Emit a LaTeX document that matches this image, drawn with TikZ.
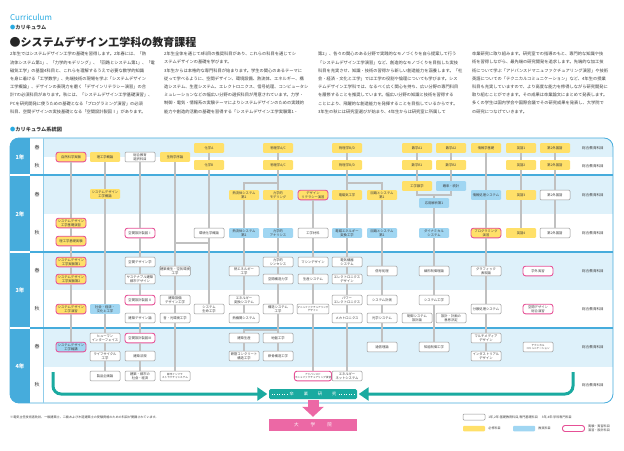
\documentclass[tikz,border=0pt]{standalone}
\usepackage{fontspec}
\setmainfont{Noto Sans CJK JP}
\usepackage{xcolor}
\usepackage{tikz}
\usetikzlibrary{arrows.meta, positioning}

\definecolor{reqyel}{RGB}{255,224,105}
\definecolor{recblue}{RGB}{160,214,242}
\definecolor{labpink}{RGB}{230,80,150}
\definecolor{bandblue}{RGB}{222,241,250}
\definecolor{frameblue}{RGB}{70,172,220}
\definecolor{thesisteal}{RGB}{26,170,160}
\definecolor{gradpink}{RGB}{236,104,165}
\definecolor{conngray}{RGB}{192,192,192}
\definecolor{boxgray}{RGB}{150,150,150}
\definecolor{headcyan}{RGB}{40,170,225}
\definecolor{bodygray}{RGB}{60,60,60}

\newcommand{\boxfont}{\fontsize{3.3}{4}\selectfont}
\newcommand{\smallboxfont}{\fontsize{2.6}{3.4}\selectfont}

\begin{document}
\begin{tikzpicture}[
    x=1pt, y=-1pt,
    box/.style={rounded corners=1pt, minimum width=30pt, minimum height=9.6pt, inner sep=0.4pt, align=center, font=\boxfont, text=bodygray},
    req/.style={box, fill=reqyel},
    rec/.style={box, fill=recblue},
    sub/.style={box, fill=white, draw=boxgray, line width=0.5pt},
    lab/.style={draw=labpink, line width=0.9pt, rounded corners=2.5pt},
    conn/.style={draw=conngray, line width=1.1pt},
    bigarrow/.style={draw=thesisteal, line width=3pt, rounded corners=8pt, -{Triangle[length=10pt, width=13pt]}},
    body/.style={anchor=north west, inner sep=0pt, align=left, text=bodygray, font=\fontsize{4.25}{8.2}\selectfont},
    yearlbl/.style={text=white, font=\fontsize{5.5}{6}\selectfont\bfseries},
    semlbl/.style={text=bodygray, font=\fontsize{5}{6}\selectfont},
    genlbl/.style={text=bodygray, font=\fontsize{3.6}{4}\selectfont},
    legtext/.style={text=bodygray, inner sep=0pt, align=left, font=\fontsize{3.1}{4.2}\selectfont}
]
    \useasboundingbox (0,0) rectangle (624,450);
    \fill[white] (0,0) rectangle (624,450);

    \node[anchor=west, text=headcyan, font=\fontsize{8}{9}\selectfont, inner sep=0pt] (curr) at (10,17) {Curriculum};
    \node[anchor=west, text=bodygray, font=\fontsize{5.2}{6}\selectfont\bfseries, inner sep=0pt] (currjp) at (10,27.5) {{\color{headcyan}●}カリキュラム};
    \node[anchor=west, text=black!85, font=\fontsize{11}{13}\selectfont\bfseries, inner sep=0pt] (title) at (9.5,42) {●システムデザイン工学科の教育課程};

    \node[body] (col1) at (10,52) {2年生ではシステムデザイン工学の基礎を習得します。2年春には、「熱\\流体システム第1」、「力学的モデリング」、「回路とシステム第1」、「電\\磁気工学」の基盤4科目と、これらを理解するうえで必要な数学的知識\\を身に着ける「工学数学」、先端技術の現場を学ぶ「システムデザイン\\工学概論」、デザインの表現力を磨く「デザインリテラシー演習」の合\\計7の必須科目があります。秋には、「システムデザイン工学基礎演習」、\\PCを研究開発に使うための基礎となる「プログラミング演習」の必須\\科目、空間デザインの実技基礎となる「空間設計製図Ⅰ」があります。};
    \node[body] (col2) at (164,52) {2年生全体を通じて8科目の推奨科目があり、これらの科目を通じてシ\\ステムデザインの基礎を学びます。\\3年生からは本格的な専門科目が始まります。学生の関心のあるテーマに\\従って学べるように、空間デザイン、環境設備、熱流体、エネルギー、構\\造システム、生産システム、エレクトロニクス、信号処理、コンピュータシ\\ミュレーションなどの幅広い分野の選択科目が用意されています。力学・\\制御・電気・情報系の実験テーマによりシステムデザインのための実践的\\能力や創造的活動の基礎を習得する「システムデザイン工学実験第1・};
    \node[body] (col3) at (318,52) {第2」、各々の関心のある分野で実践的なモノづくりを自ら提案して行う\\「システムデザイン工学演習」など、創造的なモノづくりを目指した実技\\科目を充実させ、知識・技術の習得から新しい創造能力を涵養します。「社\\会・経済・文化と工学」では工学の役割や倫理についても学びます。シス\\テムデザイン工学科では、なるべく広く関心を持ち、広い分野の専門科目\\を履修することを推奨しています。幅広い分野の知識と技術を習得する\\ことにより、飛躍的な創造能力を発揮することを目指しているからです。\\3年生の秋には研究室選びが始まり、4年生からは研究室に所属して};
    \node[body] (col4) at (472,52) {卒業研究に取り組みます。研究室での指導のもと、専門的な知識や技\\術を習得しながら、最先端の研究開発を追求します。先端的な加工技\\術について学ぶ「アドバンスドマニュファクチュアリング演習」や技術\\英語についての「テクニカルコミュニケーション」など、4年生の授業\\科目も充実していますので、より高度な能力を修得しながら研究開発に\\取り組むことができます。その成果は卒業論文にまとめて発表します。\\多くの学生は国内学会や国際会議でその研究成果を発表し、大学院で\\の研究につなげていきます。};

    \node[anchor=west, text=bodygray, font=\fontsize{5.2}{6}\selectfont\bfseries, inner sep=0pt] (charthead) at (10,129.5) {{\color{headcyan}●}カリキュラム系統図};

    \begin{scope}
        \clip[rounded corners=9pt] (10,138) rectangle (613,403);
        \foreach \ya/\yb in {138/157, 175/214, 252/290, 328/367}
            \fill[bandblue] (43,\ya) rectangle (613,\yb);
        \fill[frameblue] (10,138) rectangle (30,403);
    \end{scope}
    \draw[frameblue, line width=0.8pt, rounded corners=9pt] (10,138) rectangle (613,403);
    \draw[frameblue!60, line width=0.6pt] (43,138) -- (43,403);
    \foreach \y in {175, 252, 328} {
        \draw[frameblue, line width=1.2pt] (30,\y) -- (613,\y);
        \draw[white, line width=1.2pt] (10,\y) -- (30,\y);
    }

    \foreach \y/\t in {157/1, 214/2, 290/3, 366/4}
        \node[yearlbl] (yr\t) at (20,\y) {\t 年};
    \foreach \y/\s [count=\i] in {148/春, 166/秋, 195/春, 233/秋, 271/春, 309/秋, 347/春, 385/秋} {
        \node[semlbl] (sem\i) at (37,\y) {\s};
        \node[genlbl] (gen\i) at (593,\y) {総合教育科目};
    }

    % 1年
    \node[req, lab] (natexp) at (71,157) {自然科学実験};
    \node[req] (stintro) at (105,157) {理工学概論};
    \node[sub] (libsel) at (140,157) {総合教育\\選択科目};
    \node[req] (bio) at (175,157) {生物学序論};
    \node[req] (chemA) at (209,148) {化学A};
    \node[req] (chemB) at (209,165) {化学B};
    \node[req] (phyAC) at (278,148) {物理学A/C};
    \node[req] (phyACii) at (278,165) {物理学A/C};
    \node[req] (phyBD) at (347,148) {物理学B/D};
    \node[req] (phyBDii) at (347,165) {物理学B/D};
    \node[req] (mathAi) at (417,148) {数学A1};
    \node[req] (mathAii) at (451,148) {数学A2};
    \node[req] (mathBi) at (417,165) {数学B1};
    \node[req] (mathBii) at (451,165) {数学B2};
    \node[req] (info) at (486,148) {情報学基礎};
    \node[req] (eng1) at (521,148) {英語1};
    \node[req] (eng2) at (521,165) {英語2};
    \node[req] (for1) at (555,148) {第2外国語};
    \node[req] (for2) at (555,165) {第2外国語};

    % 2年
    \node[req] (sdintro) at (105,194) {システムデザイン\\工学概論};
    \node[req] (tf1) at (244,195) {熱流体システム\\第1};
    \node[req] (mmod) at (278,195) {力学的\\モデリング};
    \node[req, lab] (dlit) at (313,195) {デザイン\\リテラシー演習};
    \node[req] (emag) at (347,195) {電磁気工学};
    \node[req] (cir1) at (382,195) {回路とシステム\\第1};
    \node[req] (engmath) at (417,186) {工学数学};
    \node[rec] (prob) at (451,186) {確率・統計};
    \node[rec] (anal1) at (434,203) {応用解析第1};
    \node[rec] (infosys) at (486,195) {情報処理システム};
    \node[req] (eng3) at (521,195) {英語3};
    \node[sub] (for3) at (555,195) {第2外国語};

    \node[req, lab] (sdbase) at (71,223) {システムデザイン\\工学基礎演習};
    \node[req, lab] (stexp) at (71,241) {理工学基礎実験};
    \node[sub, lab] (sp1) at (140,233) {空間設計製図Ⅰ};
    \node[sub] (envchem) at (209,233) {環境化学概論};
    \node[rec] (tf2) at (244,233) {熱流体システム\\第2};
    \node[rec] (mana) at (278,233) {力学的\\アナリシス};
    \node[sub] (mat) at (313,233) {工学材料};
    \node[rec] (emconv) at (347,233) {電磁エネルギー\\変換工学};
    \node[rec] (cir2) at (382,233) {回路とシステム\\第2};
    \node[rec] (dyn) at (434,233) {ダイナミカル\\システム};
    \node[req, lab] (prog) at (486,233) {プログラミング\\演習};
    \node[req] (eng4) at (521,233) {英語4};
    \node[sub] (for4) at (555,233) {第2外国語};

    % 3年
    \node[req, lab] (sdexp1) at (71,262) {システムデザイン\\工学実験第1};
    \node[req, lab] (sdexp2) at (71,279) {システムデザイン\\工学実験第2};
    \node[sub] (spd) at (140,262) {空間デザイン学};
    \node[sub] (sust) at (140,279) {サステナブル建築\\都市デザイン};
    \node[sub] (bhyg) at (175,271) {建築衛生・空気環境\\工学};
    \node[sub] (theng) at (244,271) {熱エネルギー\\工学};
    \node[sub] (msyn) at (278,262) {力学的\\シンセシス};
    \node[sub] (sstr) at (278,279) {空間構造力学};
    \node[sub] (mach) at (313,262) {マシンデザイン};
    \node[sub] (prod) at (313,279) {生産システム};
    \node[sub] (elmach) at (347,262) {電気機器\\システム};
    \node[sub] (eldes) at (347,279) {エレクトロニクス\\デザイン};
    \node[sub] (sig) at (382,271) {信号処理};
    \node[sub] (lctl) at (434,271) {線形制御理論};
    \node[sub] (graph) at (486,271) {グラフィック\\表現論};
    \node[sub, lab] (intern) at (538,271) {学外実習};

    \node[req, lab] (sdprac) at (71,309) {システムデザイン\\工学演習};
    \node[rec] (soc) at (105,309) {社会・経済・\\文化と工学};
    \node[sub, lab] (sp2) at (140,300) {空間設計製図Ⅱ};
    \node[sub] (archd) at (140,318) {建築デザイン論};
    \node[sub] (bequip) at (175,300) {建築設備\\デザイン工学};
    \node[sub] (sound) at (175,318) {音・光環境工学};
    \node[sub] (lifesys) at (209,309) {システム\\生命工学};
    \node[sub] (econv) at (244,300) {エネルギー\\変換システム};
    \node[sub] (heng) at (244,318) {熱機関システム};
    \node[sub] (struct) at (278,309) {構造システム\\工学};
    \node[sub, font=\smallboxfont] (manu) at (313,309) {マニュファクチュアリング\\デザイン};
    \node[sub] (pwr) at (347,300) {パワー\\エレクトロニクス};
    \node[sub] (mecha) at (347,318) {メカトロニクス};
    \node[sub] (meas) at (382,300) {システム計測};
    \node[sub] (opt) at (382,318) {光学システム};
    \node[sub] (syseng) at (434,300) {システム工学};
    \node[sub] (ctldes) at (417,318) {制御システム\\設計論};
    \node[sub] (decis) at (451,318) {設計・計画の\\意思決定};
    \node[sub] (dist) at (486,309) {分散処理システム};
    \node[sub, lab] (spcomp) at (538,309) {空間デザイン\\総合演習};

    % 4年
    \node[rec, lab] (sdsem) at (71,347) {システムデザイン\\工学輪講};
    \node[sub] (hif) at (105,338) {ヒューマン\\インターフェイス};
    \node[sub] (lce) at (105,356) {ライフサイクル\\工学};
    \node[sub, lab] (sp3) at (140,338) {空間設計製図Ⅲ};
    \node[sub] (blaw) at (140,356) {建築法規};
    \node[sub] (bprod) at (244,338) {建築生産};
    \node[sub] (geo) at (278,338) {地盤工学};
    \node[sub] (rc) at (244,356) {鉄筋コンクリート\\構造工学};
    \node[sub] (steel) at (278,356) {鉄骨構造工学};
    \node[sub] (comm) at (382,347) {通信理論};
    \node[sub] (ictl) at (434,347) {知能制御工学};
    \node[sub] (mmd) at (486,338) {マルチメディア\\デザイン};
    \node[sub] (ind) at (486,356) {インダストリアル\\デザイン};
    \node[sub, font=\smallboxfont] (tcom) at (538,347) {テクニカル\\コミュニケーション};

    \node[sub] (plan) at (105,376) {製品企画論};
    \node[sub] (urbec) at (140,376) {建築・都市の\\社会・経済};
    \node[sub, font=\smallboxfont] (infra) at (175,376) {都市インフラ\\ストラクチャシステム};
    \node[sub, lab, font=\smallboxfont] (amanu) at (313,376) {アドバンスド\\マニュファクチュアリング演習};
    \node[sub] (enet) at (347,376) {エネルギー\\ネットシステム};

    \node[fill=thesisteal, rounded corners=1.5pt, minimum width=88pt, minimum height=10pt, inner sep=0pt, text=white, font=\fontsize{4.2}{5}\selectfont] (thesis) at (313,394) {卒\hspace{10pt}業\hspace{10pt}研\hspace{10pt}究};
    \node[fill=gradpink, minimum width=88pt, minimum height=12pt, inner sep=0pt, text=white, font=\fontsize{4.6}{5}\selectfont] (grad) at (313,425) {大\hspace{12pt}学\hspace{12pt}院};

    \foreach \a/\b in {natexp/sdbase, sdbase/stexp, stexp/sdexp1, sdexp1/sdexp2, sdexp2/sdprac, sdprac/sdsem,
        stintro/sdintro, sdintro/soc, soc/hif, hif/lce, lce/plan,
        libsel/sp1, sp1/spd, spd/sust, sust/sp2, sp2/archd, archd/sp3, sp3/blaw, blaw/urbec,
        bio/bhyg, bhyg/bequip, bequip/sound, sound/infra,
        chemA/chemB, chemB/envchem, envchem/lifesys,
        tf1/tf2, tf2/theng, theng/econv, econv/heng,
        phyAC/phyACii, phyACii/mmod, mmod/mana, mana/msyn, msyn/sstr, sstr/struct, struct/geo, geo/steel, bprod/rc,
        dlit/mat, mat/mach, mach/prod, prod/manu, manu/amanu,
        phyBD/phyBDii, phyBDii/emag, emag/emconv, emconv/elmach, elmach/eldes, eldes/pwr, pwr/mecha, mecha/enet,
        cir1/cir2, cir2/sig, sig/meas, meas/opt, opt/comm,
        mathAi/mathBi, mathAii/mathBii, mathBi/engmath, mathBii/prob,
        anal1/dyn, dyn/lctl, lctl/syseng, syseng/ictl,
        info/infosys, infosys/prog, prog/graph, graph/dist, dist/mmd, mmd/ind,
        eng1/eng2, eng2/eng3, eng3/eng4, for1/for2, for2/for3, for3/for4}
        \draw[conn] (\a) -- (\b);

    \coordinate (jtf) at (244,183);
    \coordinate (jcir) at (382,183);
    \coordinate (jmath) at (434,195);
    \coordinate (jchem) at (175,243);
    \coordinate (jbld) at (244,330);
    \draw[conn] (phyACii.south) |- (jtf) -- (tf1.north);
    \draw[conn] (phyBDii.south) |- (jcir) -- (cir1.north);
    \draw[conn] (engmath.south) |- (jmath);
    \draw[conn] (prob.south) |- (jmath) -- (anal1.north);
    \draw[conn] (envchem.south) |- (jchem);
    \draw[conn] (struct.south) |- (jbld) -- (bprod.north);

    \coordinate (lstart) at (53,372);
    \coordinate (rstart) at (573,372);
    \draw[bigarrow, shorten >=1.5pt] (lstart) |- (thesis.west);
    \draw[bigarrow, shorten >=1.5pt] (rstart) |- (thesis.east);
    \draw[white, dotted, line width=0.5pt] ([xshift=3pt]thesis.west) -- ([xshift=20pt]thesis.west);
    \draw[white, dotted, line width=0.5pt] ([xshift=-3pt]thesis.east) -- ([xshift=-20pt]thesis.east);
    \draw[gradpink, line width=11pt, -{Triangle[length=10pt, width=21pt]}, shorten >=2pt, shorten <=1pt] (thesis) -- (grad);

    \node[anchor=west, legtext] (note) at (10,417) {※電気主任技術者免状、一級建築士、二級および木造建築士の受験資格のための科目が開講されています。};

    \node[sub, minimum width=22pt, minimum height=6pt] (legsub) at (474,417) {};
    \node[legtext, right=3pt of legsub] (legsubt) {1年,2年:基礎教育科目,専門基礎科目\hspace{4pt}3年,4年:学科専門科目};
    \node[box, fill=reqyel, minimum width=22pt, minimum height=5.5pt] (legreq) at (474,428.5) {};
    \node[legtext, right=3pt of legreq] (legreqt) {必修科目};
    \node[box, fill=recblue, minimum width=22pt, minimum height=5.5pt] (legrec) at (524,428.5) {};
    \node[legtext, right=3pt of legrec] (legrect) {推奨科目};
    \node[sub, lab, minimum width=22pt, minimum height=6pt] (leglab) at (573.5,428.5) {};
    \node[legtext, right=3pt of leglab] (leglabt) {実験・実習科目\\演習・設計科目};
\end{tikzpicture}
\end{document}
